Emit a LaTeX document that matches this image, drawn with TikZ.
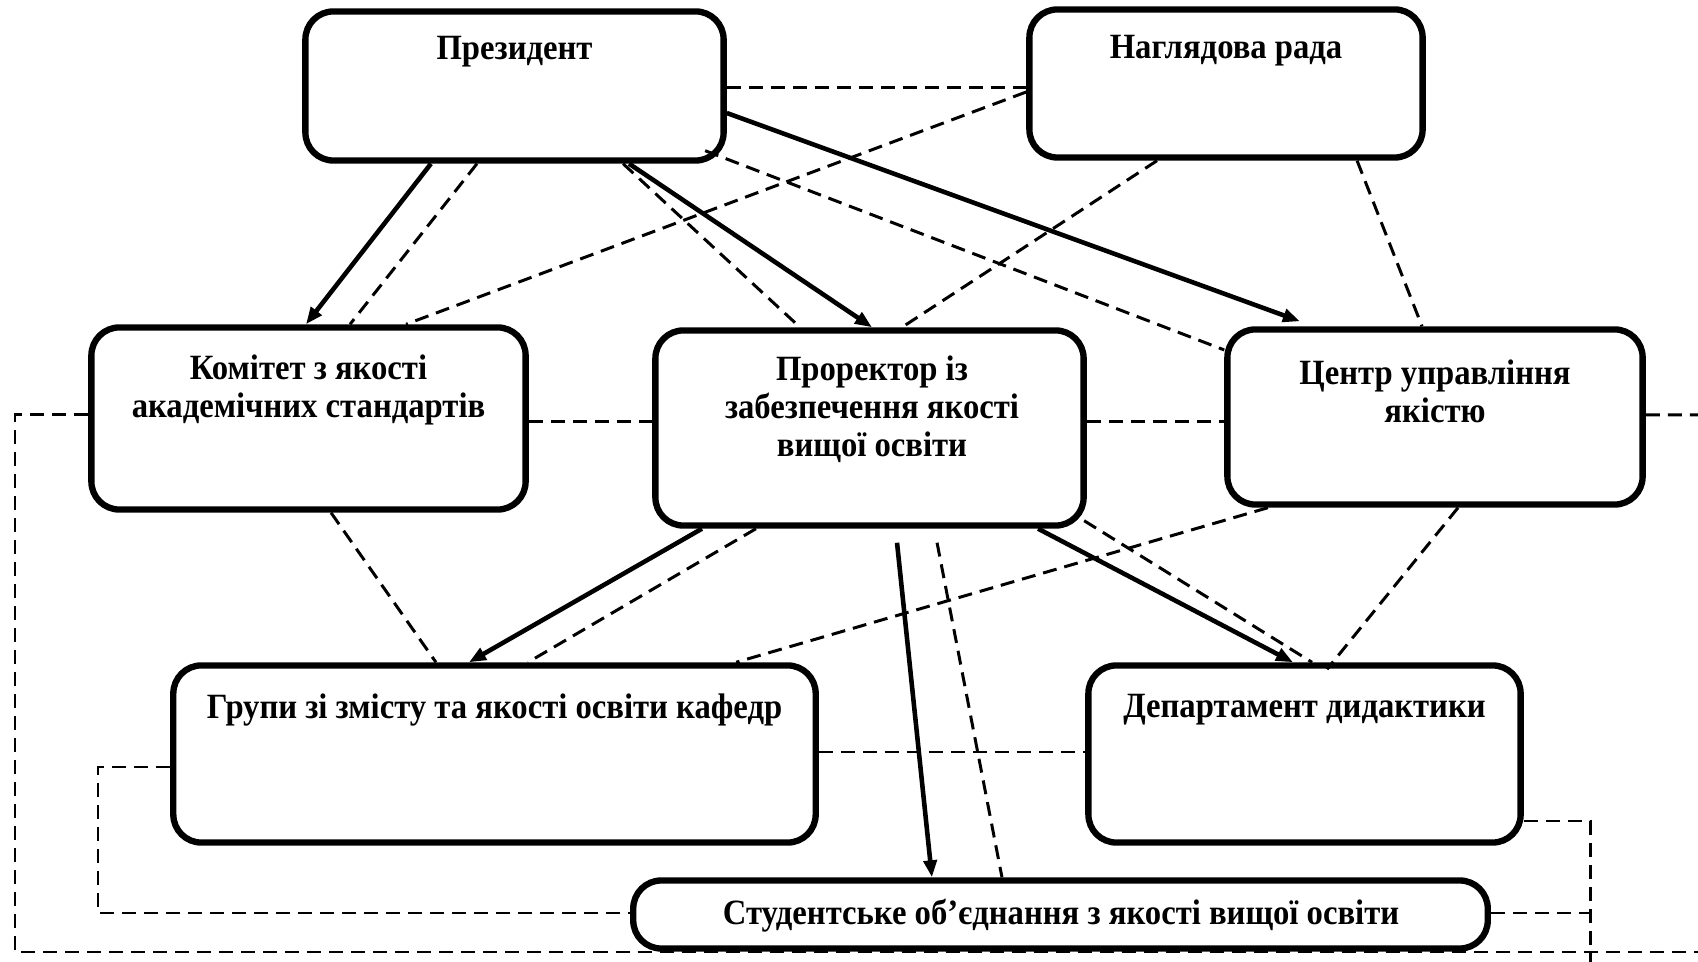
\documentclass[tikz,border=0pt]{standalone}
\usepackage{fontspec}
\setmainfont{Liberation Serif}
\newfontfamily\lblfont[FakeStretch=0.92]{Liberation Serif}
\usetikzlibrary{arrows.meta,calc}
\begin{document}
\begin{tikzpicture}[x=0.01cm,y=-0.01cm,
  box/.style={draw, line width=1.8pt, rounded corners=0.28cm, fill=white, inner sep=0pt},
  lbl/.style={font=\lblfont\bfseries\fontsize{10.1pt}{10.8pt}\selectfont, align=center, inner sep=0pt},
  solidarr/.style={line width=1.3pt, -{Triangle[length=0.17cm,width=0.13cm]}},
  dsh/.style={line width=0.85pt, dash pattern=on 0.14cm off 0.08cm}]
\useasboundingbox (0,0) rectangle (1698,962);
\fill[white] (0,0) rectangle (1698,962);
% boxes
\node[box, minimum width=4.18cm, minimum height=1.49cm] (pres) at (514.5,86) {};
\node[box, minimum width=3.93cm, minimum height=1.48cm] (nag) at (1226,83.5) {};
\node[box, minimum width=4.34cm, minimum height=1.82cm] (kom) at (308.5,418.5) {};
\node[box, minimum width=4.28cm, minimum height=1.95cm] (pro) at (869.5,428) {};
\node[box, minimum width=4.15cm, minimum height=1.75cm] (cen) at (1435,417) {};
\node[box, minimum width=6.42cm, minimum height=1.77cm] (gru) at (494.5,754) {};
\node[box, minimum width=4.32cm, minimum height=1.77cm] (dep) at (1304.5,754) {};
\node[box, minimum width=8.54cm, minimum height=0.68cm] (stu) at (1060.5,914.5) {};
% texts
\node[lbl] (tpres) at (514.5,52) {Президент};
\node[lbl] (tnag) at (1226,51) {Наглядова рада};
\node[lbl] (tkom) at (308.5,390) {Комітет з якості\\академічних стандартів};
\node[lbl] (tpro) at (872,409) {Проректор із\\забезпечення якості\\вищої освіти};
\node[lbl] (tcen) at (1435,391) {Центр управління\\якістю};
\node[lbl] (tgru) at (494.5,710) {Групи зі змісту та якості освіти кафедр};
\node[lbl] (tdep) at (1304.5,710) {Департамент дидактики};
\node[lbl] (tstu) at (1061,916) {Студентське об’єднання з якості вищої освіти};
% free ends
\coordinate (rE) at (1698,415);
\coordinate (L1) at (15,415);
\coordinate (L2) at (15,952);
\coordinate (R1) at (1698,952);
\coordinate (G1) at (98,767);
\coordinate (G2) at (98,913);
\coordinate (D1) at (1590,821);
\coordinate (D2) at (1590,962);
\coordinate (S1) at (1590,913);
% dashed links
\draw[dsh] ([yshift=-0.02cm]pres.east) -- ([yshift=-0.02cm]pres.east -| nag.west);
\draw[dsh] ([yshift=-0.035cm]kom.east) -- ([yshift=-0.035cm]kom.east -| pro.west);
\draw[dsh] ([yshift=0.06cm]pro.east) -- ([yshift=0.06cm]pro.east -| cen.west);
\draw[dsh] ([yshift=0.02cm]cen.east) -- (rE);
\draw[dsh] (kom.west |- L1) -- (L1) -- (L2) -- (R1);
\draw[dsh] ([yshift=0.02cm]gru.east) -- ([yshift=0.02cm]gru.east -| dep.west);
\draw[dsh] (gru.west |- G1) -- (G1) -- (G2) -- (G2 -| stu.west);
\draw[dsh] (dep.east |- D1) -- (D1) -- (D2);
\draw[dsh] (stu.east |- S1) -- (S1);
\draw[dsh] ([xshift=-0.375cm]pres.south) -- ([xshift=0.415cm]kom.north);
\draw[dsh] ([yshift=-0.085cm]nag.west) -- ([xshift=0.975cm]kom.north);
\draw[dsh] ([xshift=1.905cm,yshift=0.13cm]pres.south) -- ([yshift=0.67cm]cen.west);
\draw[dsh] ([xshift=1.085cm]pres.south) -- ([xshift=-0.695cm]pro.north);
\draw[dsh] ([xshift=-0.69cm]nag.south) -- ([xshift=0.325cm]pro.north);
\draw[dsh] ([xshift=1.31cm]nag.south) -- ([xshift=-0.13cm]cen.north);
\draw[dsh] ([xshift=0.225cm]kom.south) -- ([xshift=-0.585cm]gru.north);
\draw[dsh] ([xshift=-1.135cm]pro.south) -- ([xshift=0.335cm]gru.north);
\draw[dsh] ([xshift=-1.67cm]cen.south) -- ([xshift=2.415cm]gru.north);
\draw[dsh] ([xshift=2.145cm,yshift=0.08cm]pro.south) -- ([xshift=0.075cm]dep.north);
\draw[dsh] ([xshift=0.23cm]cen.south) -- ([xshift=0.225cm,yshift=-0.07cm]dep.north);
\draw[dsh] ([xshift=0.675cm,yshift=-0.14cm]pro.south) -- ([xshift=-0.585cm]stu.north);
% solid arrows
\draw[solidarr] ([xshift=-0.835cm]pres.south) -- ([xshift=-0.025cm]kom.north);
\draw[solidarr] ([xshift=1.145cm]pres.south) -- ([xshift=0.025cm]pro.north);
\draw[solidarr] ([yshift=-0.27cm]pres.east) -- ([xshift=-1.35cm,yshift=0.05cm]cen.north);
\draw[solidarr] ([xshift=-1.675cm]pro.south) -- ([xshift=-0.255cm]gru.north);
\draw[solidarr] ([xshift=1.685cm]pro.south) -- ([xshift=-0.115cm]dep.north);
\draw[solidarr] ([xshift=0.275cm,yshift=-0.14cm]pro.south) -- ([xshift=-1.285cm]stu.north);
\end{tikzpicture}
\end{document}
